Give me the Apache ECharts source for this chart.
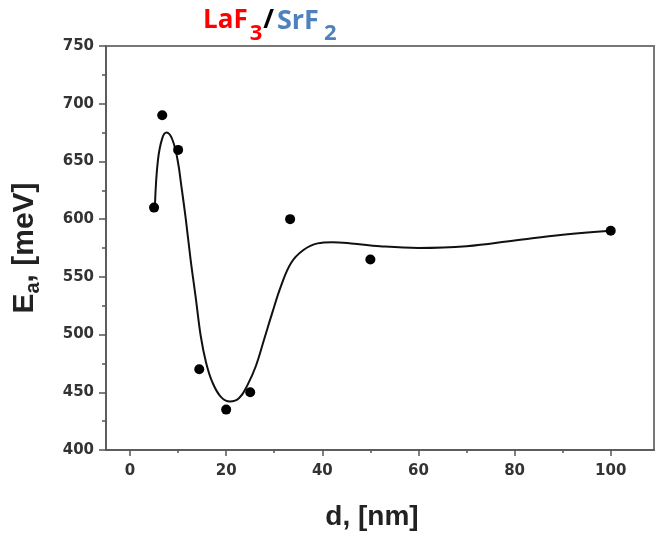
<!DOCTYPE html>
<html>
<head>
<meta charset="utf-8">
<script src="https://cdn.jsdelivr.net/npm/echarts@6/dist/echarts.min.js"></script>
<style>
  html, body { margin: 0; padding: 0; background: #fff; }
  #chart { width: 656px; height: 536px; }
</style>
</head>
<body>
<div id="chart"></div>
<script>
// Measured activation energies vs. layer thickness
const thickness = [5, 6.7, 10, 14.4, 20, 25, 33.3, 50, 100];
const activation = [610, 690, 660, 470, 435, 450, 600, 565, 590];

// Guide-to-the-eye fit curve
const fitThickness = [5.2, 5.8, 6.7, 7.6, 8.8, 9.9, 10.7, 11.6, 12.6, 13.7, 14.7, 15.8, 17.1, 18.9, 20.8, 22.7, 24.4, 26.2, 27.9, 29.6, 31.4, 33.5, 36, 39, 42, 46, 52, 60, 70, 80, 90, 100];
const fitActivation = [614, 651, 670, 675, 669, 651, 628, 600, 565, 531, 499, 476, 459, 446, 442, 445, 456, 473, 496, 519, 542, 562, 573, 579, 580, 579, 576.5, 575, 576.5, 581.5, 586.5, 590];

// Tick positions
const xMajorTicks = [0, 20, 40, 60, 80, 100];
const xMinorTicks = [10, 30, 50, 70, 90];

const labelFont = { fontFamily: 'DejaVu Sans', fontWeight: 'bold', fontSize: 15, color: '#333' };
const axisColor = '#555';
const titleFont = 'Open Sans';

const chart = echarts.init(document.getElementById('chart'), null, { renderer: 'canvas' });

chart.setOption({
  backgroundColor: '#fff',
  animation: false,
  title: {
    text: '{r|LaF}{rs|3}{k|/}{b|SrF}{bs|2}',
    left: 203,
    top: -3,
    padding: 0,
    textStyle: {
      rich: {
        r: { fontFamily: titleFont, fontWeight: 'bold', fontSize: 26, color: '#ff0000', lineHeight: 48, verticalAlign: 'middle' },
        rs: { fontFamily: titleFont, fontWeight: 'bold', fontSize: 22, color: '#ff0000', lineHeight: 22, verticalAlign: 'bottom', padding: [0, 1, 0, 2] },
        k: { fontFamily: titleFont, fontWeight: 'bold', fontSize: 26, color: '#000', lineHeight: 48, verticalAlign: 'middle', padding: [0, 3, 0, 0] },
        b: { fontFamily: titleFont, fontWeight: 'bold', fontSize: 27, color: '#4f81bd', lineHeight: 48, verticalAlign: 'middle' },
        bs: { fontFamily: titleFont, fontWeight: 'bold', fontSize: 22, color: '#4f81bd', lineHeight: 22, verticalAlign: 'bottom', padding: [0, 0, 0, 5] }
      }
    }
  },
  grid: {
    left: 106, right: 2, top: 46, bottom: 84,
    show: true, borderColor: '#777', borderWidth: 2, backgroundColor: '#fff'
  },
  xAxis: [
    {
      type: 'value', min: -5, max: 109,
      splitLine: { show: false },
      axisLine: { show: true, onZero: false, lineStyle: { color: axisColor, width: 1.5 } },
      axisTick: { show: true, inside: false, length: 6, customValues: xMajorTicks, lineStyle: { color: axisColor, width: 1.5 } },
      axisLabel: Object.assign({ margin: 14, customValues: xMajorTicks }, labelFont),
      name: 'd, [nm]',
      nameLocation: 'middle',
      nameGap: 53,
      nameTextStyle: { fontFamily: 'Liberation Sans', fontWeight: 'bold', fontSize: 28, color: '#222', padding: [0, 16, 0, 0] }
    },
    {
      type: 'value', min: -5, max: 109, position: 'bottom',
      splitLine: { show: false },
      axisLine: { show: false, onZero: false },
      axisTick: { show: true, inside: false, length: 3, customValues: xMinorTicks, lineStyle: { color: axisColor, width: 1.5 } },
      axisLabel: { show: false }
    }
  ],
  yAxis: {
    type: 'value', min: 400, max: 750, interval: 50,
    splitLine: { show: false },
    axisLine: { show: true, onZero: false, lineStyle: { color: axisColor, width: 1.5 } },
    axisTick: { show: true, inside: false, length: 7, lineStyle: { color: axisColor, width: 1.5 } },
    minorTick: { show: true, splitNumber: 2, length: 4, lineStyle: { color: axisColor, width: 1.5 } },
    axisLabel: Object.assign({ margin: 12 }, labelFont),
    name: '{e|E}{s|a}{e|, [meV]}',
    nameLocation: 'middle',
    nameRotate: 90,
    nameGap: 63,
    nameTextStyle: {
      rich: {
        e: { fontFamily: 'Liberation Sans', fontWeight: 'bold', fontSize: 30, color: '#222', lineHeight: 36, verticalAlign: 'middle' },
        s: { fontFamily: 'Liberation Sans', fontWeight: 'bold', fontSize: 20, color: '#222', lineHeight: 20, verticalAlign: 'bottom' }
      }
    }
  },
  series: [
    {
      type: 'line',
      xAxisIndex: 0,
      data: fitThickness.map((d, i) => [d, fitActivation[i]]),
      smooth: 0.4,
      showSymbol: false,
      lineStyle: { color: '#111', width: 2 },
      z: 2
    },
    {
      type: 'scatter',
      xAxisIndex: 0,
      data: thickness.map((d, i) => [d, activation[i]]),
      symbol: 'circle',
      symbolSize: 10,
      itemStyle: { color: '#000', opacity: 1 },
      z: 3
    }
  ]
});
</script>
</body>
</html>
